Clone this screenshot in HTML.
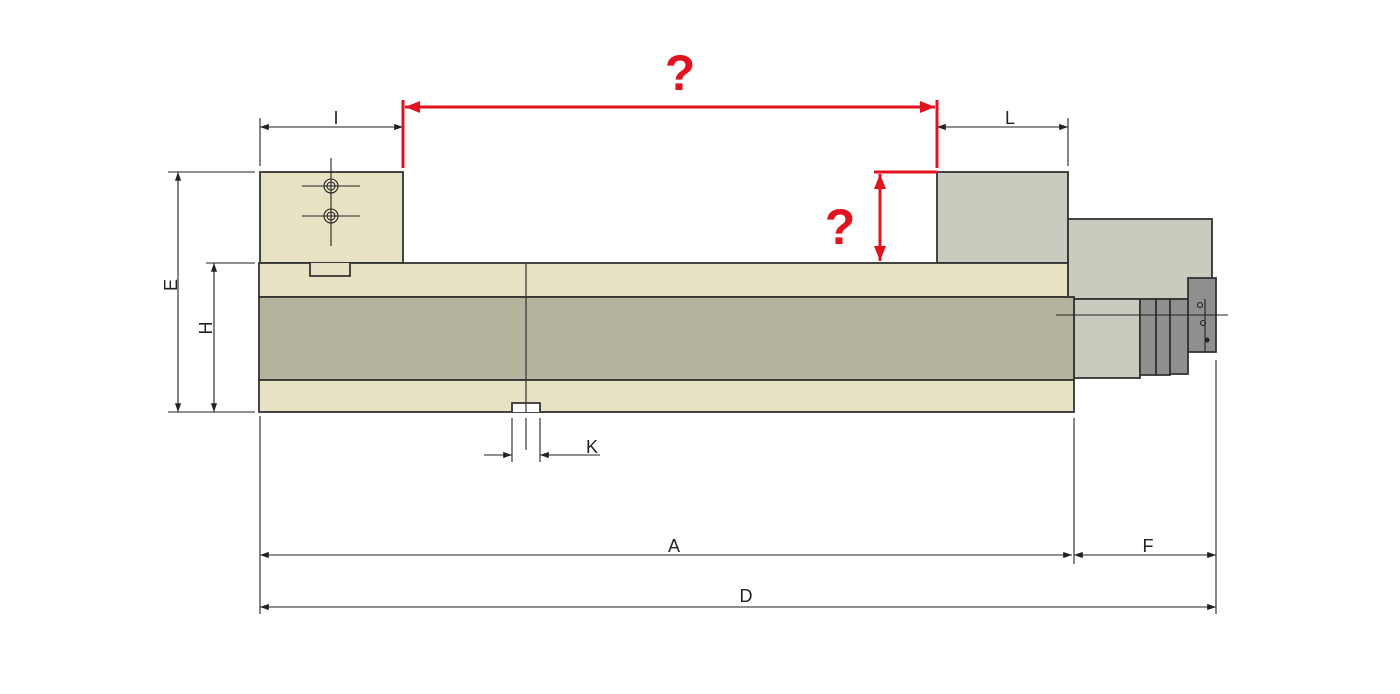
<!DOCTYPE html>
<html><head><style>html,body{margin:0;padding:0;background:#fff}svg{display:block}</style></head><body>
<svg width="1400" height="694" viewBox="0 0 1400 694" xmlns="http://www.w3.org/2000/svg" font-family="Liberation Sans, sans-serif">
<defs>
<marker id="a" viewBox="0 0 10 10" refX="10" refY="5" markerWidth="11" markerHeight="8" orient="auto-start-reverse"><path d="M0,1.5L10,5L0,8.5z" fill="#222"/></marker>
<marker id="r" viewBox="0 0 10 10" refX="10" refY="5" markerWidth="6" markerHeight="5" orient="auto-start-reverse"><path d="M0,1L10,5L0,9z" fill="#e0141e"/></marker>
</defs>
<g stroke="#333" stroke-width="1.8">
<rect x="260" y="172" width="143" height="91" fill="#e8e2c4"/>
<rect x="937" y="172" width="131" height="91" fill="#c9cbbf"/>
<rect x="1068" y="219" width="144" height="80" fill="#c9cbbf"/>
<rect x="1074" y="299" width="66" height="79" fill="#c9cbbf"/>
<rect x="1188" y="278" width="28" height="74" fill="#8f8f8f"/>
<rect x="1140" y="299" width="16" height="76" fill="#8f8f8f"/>
<rect x="1156" y="299" width="14" height="76" fill="#8f8f8f"/>
<rect x="1170" y="299" width="18" height="75" fill="#8f8f8f"/>
<rect x="259" y="263" width="809" height="34" fill="#e8e2c4"/>
<rect x="259" y="297" width="815" height="83" fill="#b5b39c"/>
<rect x="259" y="380" width="815" height="32" fill="#e8e2c4"/>
<path d="M310,263 V276 H350 V263" fill="#e8e2c4"/>
<path d="M512,412 V403 H540 V412" fill="#fff"/>
<line x1="526" y1="263" x2="526" y2="412" stroke-width="1.2"/>
</g>
<g stroke="#222" stroke-width="1.1" fill="none">
<line x1="331" y1="158" x2="331" y2="246"/>
<line x1="302" y1="186" x2="360" y2="186"/><line x1="302" y1="216" x2="360" y2="216"/>
<circle cx="331" cy="186" r="7"/><circle cx="331" cy="186" r="4"/>
<circle cx="331" cy="216" r="7"/><circle cx="331" cy="216" r="4"/>
<line x1="1056" y1="315" x2="1228" y2="315"/>
<circle cx="1200" cy="305" r="2.5"/><circle cx="1203" cy="323" r="2.5"/><circle cx="1207" cy="340" r="2" fill="#222"/>
<line x1="1205" y1="299" x2="1205" y2="352"/>
<line x1="168" y1="172" x2="255" y2="172"/><line x1="168" y1="412" x2="255" y2="412"/>
<line x1="206" y1="263" x2="255" y2="263"/>
<line x1="260" y1="118" x2="260" y2="166"/><line x1="1068" y1="118" x2="1068" y2="166"/>
<line x1="260" y1="416" x2="260" y2="614"/><line x1="1074" y1="418" x2="1074" y2="564"/><line x1="1216" y1="360" x2="1216" y2="614"/>
<line x1="512" y1="418" x2="512" y2="462"/><line x1="540" y1="418" x2="540" y2="462"/>
<line x1="526" y1="418" x2="526" y2="450"/>
<line x1="178" y1="172" x2="178" y2="412" marker-start="url(#a)" marker-end="url(#a)"/>
<line x1="214" y1="263" x2="214" y2="412" marker-start="url(#a)" marker-end="url(#a)"/>
<line x1="260" y1="127" x2="403" y2="127" marker-start="url(#a)" marker-end="url(#a)"/>
<line x1="937" y1="127" x2="1068" y2="127" marker-start="url(#a)" marker-end="url(#a)"/>
<line x1="260" y1="555" x2="1072" y2="555" marker-start="url(#a)" marker-end="url(#a)"/>
<line x1="1074" y1="555" x2="1216" y2="555" marker-start="url(#a)" marker-end="url(#a)"/>
<line x1="260" y1="607" x2="1216" y2="607" marker-start="url(#a)" marker-end="url(#a)"/>
<line x1="484" y1="455" x2="512" y2="455" marker-end="url(#a)"/>
<line x1="568" y1="455" x2="540" y2="455" marker-end="url(#a)"/>
<line x1="540" y1="455" x2="600" y2="455"/>
</g>
<g stroke="#e0141e" stroke-width="3" fill="none">
<line x1="403" y1="100" x2="403" y2="168"/><line x1="937" y1="100" x2="937" y2="168"/>
<line x1="405" y1="107" x2="935" y2="107" marker-start="url(#r)" marker-end="url(#r)"/>
<line x1="874" y1="172" x2="937" y2="172"/>
<line x1="880" y1="174" x2="880" y2="261" marker-start="url(#r)" marker-end="url(#r)"/>
</g>
<g fill="#e0141e" font-size="50" font-weight="bold" text-anchor="middle">
<text x="680" y="90">?</text><text x="840" y="244">?</text>
</g>
<g fill="#222" font-size="18" text-anchor="middle">
<text x="336" y="124">I</text><text x="1010" y="124">L</text>
<text x="674" y="552">A</text><text x="1148" y="552">F</text><text x="746" y="602">D</text>
<text x="592" y="453">K</text>
<text transform="translate(177,285) rotate(-90)">E</text>
<text transform="translate(212,328) rotate(-90)">H</text>
</g>
</svg>
</body></html>
